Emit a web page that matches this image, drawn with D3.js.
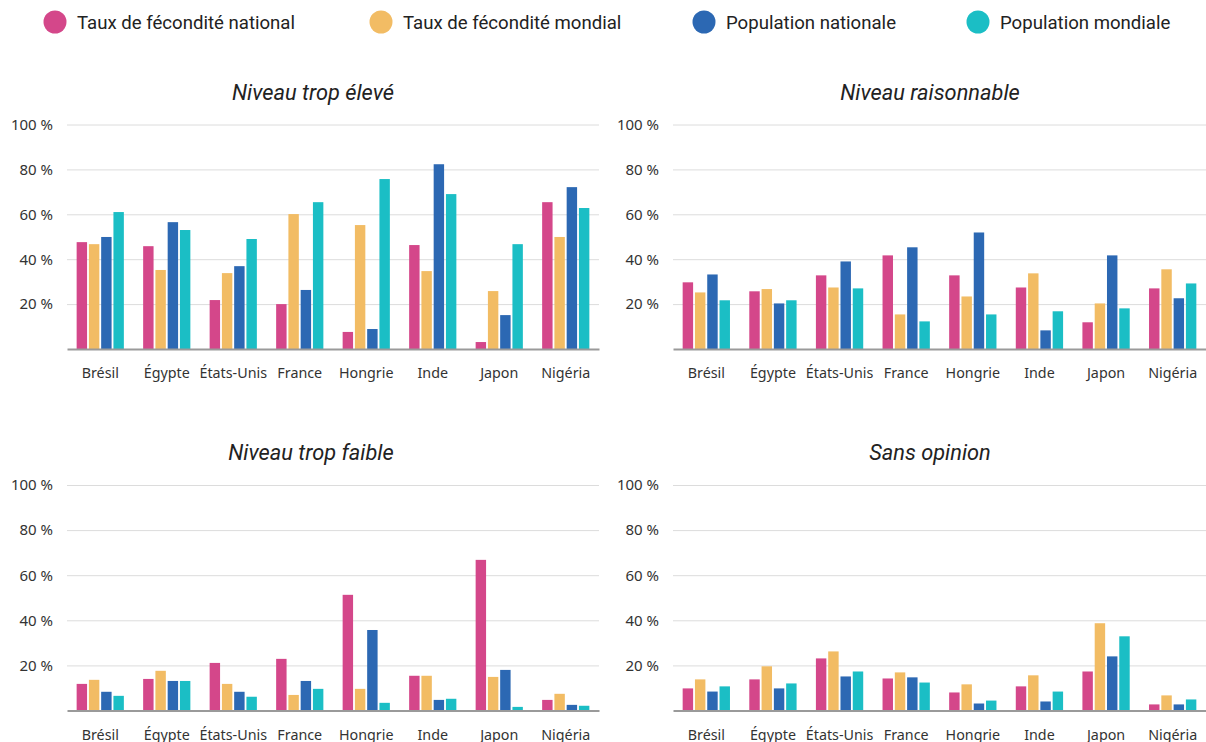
<!DOCTYPE html>
<html><head><meta charset="utf-8">
<script src="https://cdn.jsdelivr.net/npm/d3@7"></script>
<style>body{margin:0;background:#fff}svg{display:block}</style>
</head><body>
<svg id="c" width="1206" height="742"></svg>
<script>
const categories = ["Brésil","Égypte","États-Unis","France","Hongrie","Inde","Japon","Nigéria"];
const seriesNames = ["Taux de fécondité national","Taux de fécondité mondial","Population nationale","Population mondiale"];
const colors = ["#d4478a","#f2bc64","#2c68b3","#1bbec5"];
const panelTitles = ["Niveau trop élevé","Niveau raisonnable","Niveau trop faible","Sans opinion"];
const yTicks = [20,40,60,80,100];

// values per panel: [series][category]
const tropEleve = [
  [47.6,45.8,21.8,20.0,7.6,46.3,3.1,65.4],
  [46.7,35.2,33.8,60.1,55.2,34.7,25.8,49.9],
  [49.9,56.5,36.9,26.3,8.9,82.3,15.1,72.1],
  [61.0,53.0,49.0,65.4,75.7,69.0,46.7,62.8]
];
const raisonnable = [
  [29.7,25.7,32.8,41.7,32.8,27.4,11.9,27.0],
  [25.2,26.7,27.4,15.4,23.4,33.7,20.3,35.5],
  [33.2,20.3,39.0,45.3,51.9,8.3,41.7,22.6],
  [21.7,21.7,27.0,12.3,15.4,16.8,18.1,29.2]
];
const tropFaible = [
  [11.8,14.0,21.1,22.9,51.3,15.4,66.8,4.7],
  [13.6,17.6,11.8,6.9,9.6,15.4,14.9,7.4],
  [8.3,13.1,8.3,13.1,35.7,4.7,18.0,2.5],
  [6.5,13.1,6.1,9.6,3.4,5.2,1.6,2.1]
];
const sansOpinion = [
  [9.8,13.8,23.1,14.2,8.0,10.7,17.3,2.7],
  [13.8,19.6,26.2,16.9,11.6,15.6,38.7,6.7],
  [8.4,9.8,15.1,14.7,3.1,4.0,24.0,2.7],
  [10.7,12.0,17.3,12.4,4.4,8.4,32.9,4.9]
];
const panelData = [tropEleve, raisonnable, tropFaible, sansOpinion];

const svg = d3.select("#c");

// legend
const legendX = [55,381,704,978];
const lg = svg.append("g");
seriesNames.forEach((n,i)=>{
  lg.append("circle").attr("cx",legendX[i]).attr("cy",22).attr("r",11.5).attr("fill",colors[i]);
  lg.append("text").attr("x",legendX[i]+22).attr("y",22).attr("dy","0.35em")
    .attr("font-family","Roboto, sans-serif").attr("font-size",18.6).attr("fill","#222").text(n);
});

const panels = [
  {x0:67,x1:599,y0:349,y100:124.5,tx:313,ty:92},
  {x0:673,x1:1206,y0:349,y100:124.5,tx:930,ty:92},
  {x0:67,x1:599,y0:710.5,y100:485,tx:311,ty:452},
  {x0:673,x1:1206,y0:710.5,y100:485,tx:930,ty:452}
];

panels.forEach((p,pi)=>{
  const g = svg.append("g");
  const x = d3.scaleBand().domain(categories).range([p.x0,p.x1]).paddingInner(0.29).paddingOuter(0.145);
  const xi = d3.scaleBand().domain(d3.range(4)).range([0,x.bandwidth()]).paddingInner(0.15);
  const y = d3.scaleLinear().domain([0,100]).range([p.y0,p.y100]);

  g.append("text").attr("x",p.tx).attr("y",p.ty).attr("dy","0.35em").attr("text-anchor","middle")
    .attr("font-family","Roboto, sans-serif").attr("font-style","italic").attr("font-size",21.8)
    .attr("fill","#222").text(panelTitles[pi]);

  const ya = d3.axisLeft(y).tickValues(yTicks).tickSize(-(p.x1-p.x0)).tickFormat(d=>d+" %");
  const yg = g.append("g").attr("transform",`translate(${p.x0},0)`).call(ya);
  yg.select(".domain").remove();
  yg.selectAll(".tick line").attr("stroke","#dcdcdc").attr("stroke-width",1);
  yg.selectAll(".tick text").attr("x",-14).attr("font-family","'Noto Sans', sans-serif").attr("font-size",15).attr("fill","#333");

  const data = panelData[pi];
  const cg = g.append("g").selectAll("g").data(categories).join("g")
    .attr("transform",c=>`translate(${x(c)},0)`);
  cg.selectAll("rect").data((c,ci)=>data.map((s,si)=>({si,v:s[ci]}))).join("rect")
    .attr("x",d=>xi(d.si)).attr("width",xi.bandwidth())
    .attr("y",d=>y(d.v)).attr("height",d=>y(0)-y(d.v))
    .attr("fill",d=>colors[d.si]);

  const xa = d3.axisBottom(x).tickSize(0).tickPadding(19);
  const xg = g.append("g").attr("transform",`translate(0,${p.y0})`).call(xa);
  xg.select(".domain").attr("stroke","#9a9a9a").attr("stroke-width",2);
  xg.selectAll(".tick text").attr("font-family","'Noto Sans', sans-serif").attr("font-size",14.3).attr("fill","#333");
});
</script>
</body></html>
